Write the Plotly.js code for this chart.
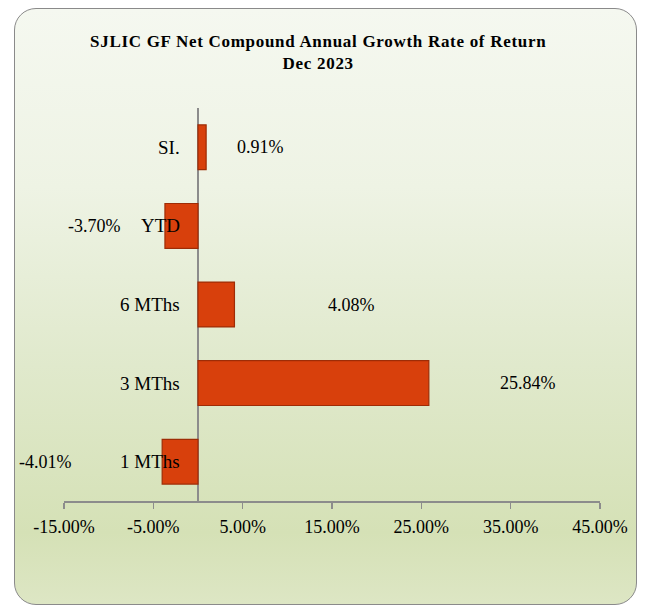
<!DOCTYPE html>
<html>
<head>
<meta charset="utf-8">
<script src="https://cdn.plot.ly/plotly-3.0.1.min.js"></script>
<style>
  html, body { margin: 0; padding: 0; background: #ffffff; }
  #wrap { position: relative; width: 652px; height: 606px; overflow: hidden; background: #ffffff; }
  #card {
    position: absolute; left: 14px; top: 8px; width: 623px; height: 597px;
    border: 1.5px solid #8a8a8a; border-radius: 22px;
    background: linear-gradient(to bottom, #f5f8f0 0%, #eef3e4 30%, #e0e9cc 60%, #d5e1b6 88%, #dde6c4 100%);
    box-sizing: border-box;
  }
  #chart { position: absolute; left: 0; top: 0; width: 652px; height: 606px; }
  #chart .gtitle { letter-spacing: 0.7px; }
</style>
</head>
<body>
<div id="wrap">
  <div id="card"></div>
  <div id="chart"></div>
</div>
<script>
// Data (bottom to top on the category axis)
const categories = ['1 MThs', '3 MThs', '6 MThs', 'YTD', 'SI.'];
const returns = [-4.01, 25.84, 4.08, -3.70, 0.91];
const tickValues = [-15, -5, 5, 15, 25, 35, 45];
const tickLabels = ['-15.00%', '-5.00%', '5.00%', '15.00%', '25.00%', '35.00%', '45.00%'];

// Style: pixel offsets of the value labels from the bar ends
const labelShift = [-117, 99, 117, -70, 54];

const serif = '"Liberation Serif", "DejaVu Serif", serif';

const trace = {
  type: 'bar',
  orientation: 'h',
  y: categories,
  x: returns,
  marker: { color: '#d8400c', line: { color: '#9e2c06', width: 1.2 } },
  hoverinfo: 'skip'
};

const annotations = [];
categories.forEach((c, i) => {
  annotations.push({
    x: 0, y: c, xref: 'x', yref: 'y',
    text: c, showarrow: false, xanchor: 'right', yanchor: 'middle', xshift: -16,
    font: { family: serif, size: 19, color: '#000000' }
  });
  annotations.push({
    x: returns[i], y: c, xref: 'x', yref: 'y',
    text: returns[i].toFixed(2) + '%', showarrow: false, xanchor: 'center', yanchor: 'middle',
    xshift: labelShift[i],
    font: { family: serif, size: 18, color: '#000000' }
  });
});

const layout = {
  width: 652, height: 606,
  paper_bgcolor: 'rgba(0,0,0,0)',
  plot_bgcolor: 'rgba(0,0,0,0)',
  margin: { l: 64, r: 52, t: 108, b: 105 },
  showlegend: false,
  bargap: 0.43,
  title: {
    text: '<b>SJLIC GF Net Compound Annual Growth Rate of Return<br>Dec 2023</b>',
    font: { family: serif, size: 17, color: '#000000' },
    x: 0.488, xref: 'container', xanchor: 'center',
    y: 0.923, yref: 'container', yanchor: 'middle'
  },
  xaxis: {
    range: [-15, 45],
    tickmode: 'array', tickvals: tickValues, ticktext: tickLabels,
    showgrid: false,
    zeroline: true, zerolinecolor: '#8c8c8c', zerolinewidth: 1.5,
    showline: true, linecolor: '#8c8c8c', linewidth: 1.5,
    ticks: 'outside', ticklen: 6, tickcolor: '#8c8c8c', tickwidth: 1.5,
    ticklabelstandoff: 3,
    tickfont: { family: serif, size: 18, color: '#000000' },
    fixedrange: true
  },
  yaxis: {
    type: 'category',
    showticklabels: false, showgrid: false, showline: false, zeroline: false, ticks: '',
    fixedrange: true
  },
  annotations: annotations
};

Plotly.newPlot('chart', [trace], layout, { displayModeBar: false, staticPlot: true });
</script>
</body>
</html>
